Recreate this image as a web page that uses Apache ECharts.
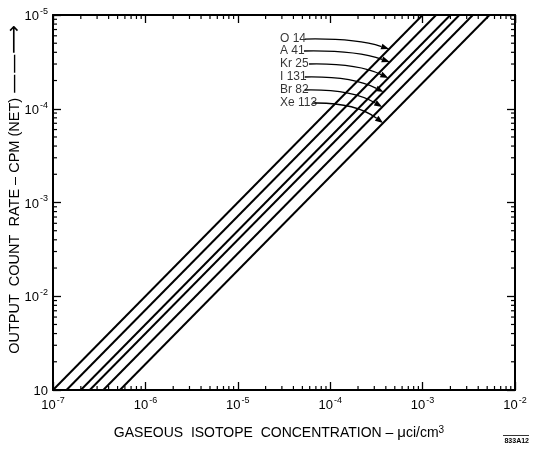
<!DOCTYPE html>
<html><head><meta charset="utf-8">
<script src="https://cdn.jsdelivr.net/npm/echarts@6/dist/echarts.min.js"></script>
<style>html,body{margin:0;padding:0;background:#fff}#c{width:535px;height:449px}</style>
</head><body><div id="c"></div>
<script>
// ---- data ----
const isotopes = ['O 14', 'A 41', 'Kr 25', 'I 131', 'Br 82', 'Xe 113'];
// concentration (µci/cm³) at which each line is at count rate 10 and 10^5
const concAtLow  = [1.0e-7, 1.4e-7, 2.0e-7, 2.5e-7, 3.5e-7, 5.3e-7];
const concAtHigh = [1.0e-3, 1.4e-3, 2.0e-3, 2.5e-3, 3.5e-3, 5.3e-3];
const rateLow = 10, rateHigh = 1e5;
const yTickLabels = ['10', '10^-2', '10^-3', '10^-4', '10^-5'];
const minorMultipliers = [2, 3, 4, 5, 6, 7, 8, 9];
const xDecades = [1e-7, 1e-6, 1e-5, 1e-4, 1e-3];
const yDecades = [10, 100, 1000, 1e4];
// annotation anchors (data coordinates)
const labelConc = [2.86e-5, 2.86e-5, 2.86e-5, 2.86e-5, 2.86e-5, 2.86e-5];
const labelRate = [55400, 41300, 30000, 21800, 15850, 11500];
const arrowStartConc = [5.3e-5, 5.2e-5, 5.9e-5, 5.3e-5, 5.3e-5, 6.35e-5];
const arrowTargetRate = [43400, 31500, 21300, 15100, 10450, 7050];

// ---- build ----
const FONT = '"Liberation Sans", Arial, sans-serif';
const xMinor = [], yMinor = [];
xDecades.forEach(d => minorMultipliers.forEach(m => xMinor.push([d * m, rateLow])));
yDecades.forEach(d => minorMultipliers.forEach(m => yMinor.push([1e-7, d * m])));

const chart = echarts.init(document.getElementById('c'), null, {renderer: 'canvas'});

const lineSeries = isotopes.map((name, i) => ({
  name, type: 'line', xAxisIndex: 0, yAxisIndex: 0,
  data: [[concAtLow[i], rateLow], [concAtHigh[i], rateHigh]],
  symbol: 'none', animation: false,
  lineStyle: {color: '#000', width: 2}
}));

const arrowData = isotopes.map((n, i) => [
  arrowStartConc[i], labelRate[i],
  concAtLow[i] * arrowTargetRate[i] / rateLow, arrowTargetRate[i]
]);

function arrowRender(params, api) {
  const p1 = api.coord([api.value(0), api.value(1)]);
  const p2 = api.coord([api.value(2), api.value(3)]);
  const dx = p2[0] - p1[0];
  const cp = [p1[0] + dx * 0.6, p1[1] - 1];
  let ux = p2[0] - cp[0], uy = p2[1] - cp[1];
  const len = Math.hypot(ux, uy); ux /= len; uy /= len;
  const AL = 8, AW = 3;
  const bx = p2[0] - ux * AL, by = p2[1] - uy * AL;
  return {type: 'group', children: [
    {type: 'bezierCurve', shape: {x1: p1[0], y1: p1[1], x2: bx, y2: by, cpx1: cp[0], cpy1: cp[1]},
     style: {stroke: '#000', lineWidth: 1.3, fill: null}},
    {type: 'polygon', shape: {points: [[p2[0], p2[1]], [bx - uy * AW, by + ux * AW], [bx + uy * AW, by - ux * AW]]},
     style: {fill: '#000'}}
  ]};
}

const supRich = {
  b: {fontSize: 13, fontFamily: FONT, color: '#000', verticalAlign: 'bottom', lineHeight: 16},
  s: {fontSize: 9, fontFamily: FONT, color: '#000', verticalAlign: 'top', lineHeight: 16, padding: [0, 0, 0, 1]}
};
function supText(str) {
  const parts = str.split('^');
  return parts.length > 1 ? '{b|' + parts[0] + '}{s|' + parts[1] + '}' : '{b|' + parts[0] + '}';
}

function tickRender(kind) {
  return function (params, api) {
    const cs = params.coordSys;
    const p = api.coord([api.value(0), api.value(1)]);
    const L = 4, st = {stroke: '#000', lineWidth: 1.2};
    if (kind === 'x') {
      return {type: 'group', children: [
        {type: 'line', shape: {x1: p[0], y1: cs.y + cs.height, x2: p[0], y2: cs.y + cs.height - L}, style: st},
        {type: 'line', shape: {x1: p[0], y1: cs.y, x2: p[0], y2: cs.y + L}, style: st}
      ]};
    }
    return {type: 'group', children: [
      {type: 'line', shape: {x1: cs.x, y1: p[1], x2: cs.x + L, y2: p[1]}, style: st},
      {type: 'line', shape: {x1: cs.x + cs.width, y1: p[1], x2: cs.x + cs.width - L, y2: p[1]}, style: st}
    ]};
  };
}

const axisCommon = {
  type: 'log', logBase: 10,
  axisLine: {show: true, lineStyle: {color: '#000', width: 2}},
  axisTick: {show: true, inside: true, length: 8, lineStyle: {color: '#000', width: 1.3}},
  splitLine: {show: false}, minorTick: {show: false}
};

chart.setOption({
  animation: false,
  backgroundColor: '#fff',
  grid: {left: 53, right: 20, top: 15, bottom: 59, containLabel: false, outerBoundsMode: 'none'},
  xAxis: [
    Object.assign({}, axisCommon, {
      position: 'bottom', min: 1e-7, max: 1e-2,
      axisLabel: {margin: 6, formatter: v => supText('10^' + Math.round(Math.log10(v))), rich: supRich},
      name: 'GASEOUS  ISOTOPE  CONCENTRATION – {m|μ}ci/cm{s|3}', nameLocation: 'middle', nameGap: 35,
      nameMoveOverlap: false,
      nameTextStyle: {fontSize: 14, fontFamily: FONT, color: '#000', padding: [0, 10, 0, 0],
        rich: {m: {fontSize: 15, fontFamily: FONT, color: '#000'}, s: {fontSize: 10, fontFamily: FONT, color: '#000', verticalAlign: 'top', lineHeight: 16}}}
    }),
    Object.assign({}, axisCommon, {position: 'top', min: 1e-7, max: 1e-2, axisLabel: {show: false}})
  ],
  yAxis: [
    Object.assign({}, axisCommon, {
      position: 'left', min: 10, max: 1e5,
      axisLabel: {margin: 5, formatter: (v) => supText(yTickLabels[Math.round(Math.log10(v)) - 1] || ''), rich: supRich},
      name: 'OUTPUT  COUNT  RATE – CPM (NET) {a|——⟶}', nameLocation: 'middle', nameRotate: 90, nameGap: 30,
      nameMoveOverlap: false,
      nameTextStyle: {fontSize: 14.5, fontFamily: FONT, color: '#000', lineHeight: 16, padding: [0, 0, 0, 26],
        rich: {a: {fontSize: 20, fontFamily: '"DejaVu Sans"', color: '#000', lineHeight: 16}}}
    }),
    Object.assign({}, axisCommon, {position: 'right', min: 10, max: 1e5, axisLabel: {show: false}})
  ],
  series: lineSeries.concat([
    {
      type: 'scatter', xAxisIndex: 0, yAxisIndex: 0, symbolSize: 0, silent: true,
      data: labelConc.map((c, i) => [c, labelRate[i]]),
      label: {show: true, position: 'right', distance: 0, color: '#000', fontSize: 12, fontFamily: FONT,
        formatter: p => isotopes[p.dataIndex]}
    },
    {type: 'custom', xAxisIndex: 0, yAxisIndex: 0, clip: false, silent: true, data: arrowData, renderItem: arrowRender},
    {type: 'custom', xAxisIndex: 0, yAxisIndex: 0, clip: false, silent: true, data: xMinor, renderItem: tickRender('x')},
    {type: 'custom', xAxisIndex: 0, yAxisIndex: 0, clip: false, silent: true, data: yMinor, renderItem: tickRender('y')}
  ]),
  graphic: [
    {type: 'text', right: 6, bottom: 4, style: {text: '833A12', font: 'bold 7px ' + FONT, fill: '#000'}},
    {type: 'rect', right: 6, bottom: 13, shape: {width: 26, height: 0.8}, style: {fill: '#000'}}
  ]
});
</script></body></html>
